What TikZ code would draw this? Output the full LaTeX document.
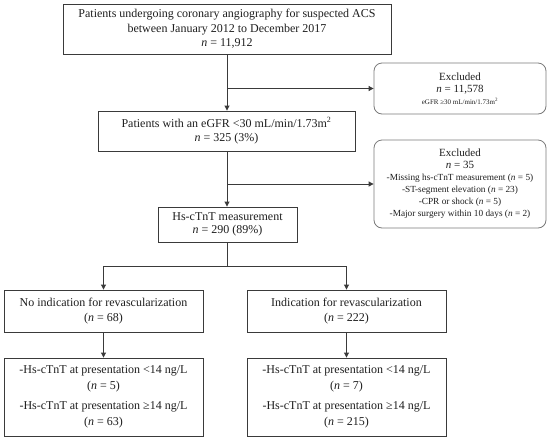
\documentclass[tikz,border=0pt]{standalone}
\usepackage{fontspec}
\setmainfont{Liberation Serif}
\usetikzlibrary{arrows.meta}
\definecolor{linec}{HTML}{3A3A3A}
\definecolor{roundc}{HTML}{7A7A7A}
\definecolor{txtc}{HTML}{1E1E1E}
\begin{document}
\begin{tikzpicture}[x=1pt,y=-1pt,
  rectbox/.style={draw=linec, line width=0.9pt, rectangle, align=center, inner sep=0pt, text=txtc,
     font=\fontsize{12}{14.5}\selectfont},
  exclbox/.style={draw=roundc, line width=0.8pt, rounded corners=8pt, align=center, inner sep=0pt, text=txtc},
  conn/.style={draw=linec, line width=0.9pt},
  arr/.style={conn, -{Triangle[length=5pt,width=5pt]}}
]
\useasboundingbox (0,0) rectangle (550,440);

\node[rectbox, minimum width=328pt, minimum height=50pt] (b1) at (227,29)
  {Patients undergoing coronary angiography for suspected ACS\\ between January 2012 to December 2017\\ \textit{n} = 11,912};

\node[exclbox, minimum width=172pt, minimum height=51pt] (e1) at (460,88.5)
  {\fontsize{11}{11.5}\selectfont Excluded\\ \fontsize{11}{11.5}\selectfont\textit{n} = 11,578\\ \fontsize{7}{11.5}\selectfont eGFR ≥30 mL/min/1.73m\textsuperscript{2}};

\node[rectbox, minimum width=257pt, minimum height=40pt] (b2) at (226.5,131)
  {Patients with an eGFR <30 mL/min/1.73m\textsuperscript{2}\\ \textit{n} = 325 (3\%)};

\node[exclbox, minimum width=172pt, minimum height=88pt] (e2) at (460,184)
  {\fontsize{11}{11}\selectfont Excluded\\ \fontsize{11}{11.5}\selectfont\textit{n} = 35\\
   \fontsize{9.3}{11}\selectfont -Missing hs-cTnT measurement (\textit{n} = 5)\\
   \fontsize{9.3}{11}\selectfont -ST-segment elevation (\textit{n} = 23)\\
   \fontsize{9.3}{11}\selectfont -CPR or shock (\textit{n} = 5)\\
   \fontsize{9.3}{11}\selectfont -Major surgery within 10 days (\textit{n} = 2)};

\node[rectbox, minimum width=139pt, minimum height=35pt, font=\fontsize{12}{12.5}\selectfont] (b3) at (227.5,224.5)
  {Hs-cTnT measurement\\ \textit{n} = 290 (89\%)};

\node[rectbox, minimum width=199pt, minimum height=42pt, font=\fontsize{12}{15}\selectfont] (b4) at (103.5,311)
  {No indication for revascularization\\ (\textit{n} = 68)};
\node[rectbox, minimum width=199pt, minimum height=42pt, font=\fontsize{12}{15}\selectfont] (b5) at (346.5,311)
  {Indication for revascularization\\ (\textit{n} = 222)};

\node[rectbox, minimum width=199pt, minimum height=78pt, font=\fontsize{12}{16.5}\selectfont] (b6) at (103.5,397)
  {-Hs-cTnT at presentation <14 ng/L\\ (\textit{n} = 5)\\[3pt] -Hs-cTnT at presentation ≥14 ng/L\\ (\textit{n} = 63)};
\node[rectbox, minimum width=199pt, minimum height=78pt, font=\fontsize{12}{16.5}\selectfont] (b7) at (346.5,397)
  {-Hs-cTnT at presentation <14 ng/L\\ (\textit{n} = 7)\\[3pt] -Hs-cTnT at presentation ≥14 ng/L\\ (\textit{n} = 215)};

% connectors
\coordinate (j1) at (b1.south |- e1.west);
\coordinate (j2) at (b1.south |- e2.west);
\coordinate (s0) at (227,266);
\coordinate (sl) at (b4.north |- s0);
\coordinate (sr) at (b5.north |- s0);

\draw[arr] (b1.south) -- (b1.south |- b2.north);
\draw[arr] (j1) -- (e1.west);
\draw[arr] (b1.south |- b2.south) -- (b1.south |- b3.north);
\draw[arr] (j2) -- (e2.west);
\draw[conn] (b3.south -| s0) -- (s0);
\draw[conn] (sl) -- (sr);
\draw[arr] (sl) -- (b4.north);
\draw[arr] (sr) -- (b5.north);
\draw[arr] (b4.south) -- (b6.north);
\draw[arr] (b5.south) -- (b7.north);
\end{tikzpicture}
\end{document}
